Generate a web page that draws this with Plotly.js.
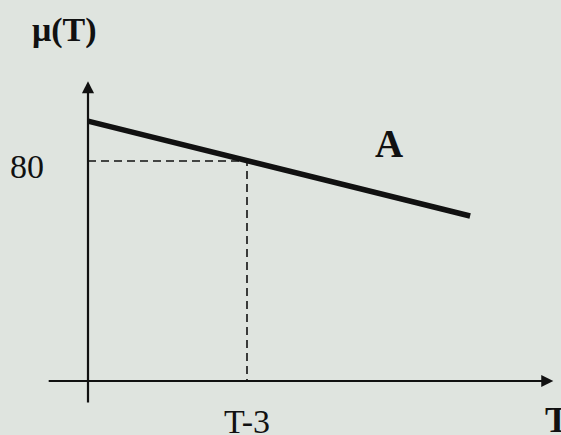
<!DOCTYPE html>
<html><head><meta charset="utf-8">
<script src="https://cdn.plot.ly/plotly-3.0.1.min.js"></script>
<style>html,body{margin:0;padding:0;background:#dfe4df;}</style>
</head><body>
<div id="chart" style="width:561px;height:435px;"></div>
<script>
// Data
var lineX = [0, 7.21];          // time axis (T-3 sits at x = 3)
var lineY = [94.5, 60.0];       // μ(T) along curve A
var refX = 3;                   // position of T-3
var refY = 80;                  // μ value at T-3
var xTickLabels = ["T-3", "T"];
var yTickLabels = ["80"];
var yAxisTitle = "μ(T)";
var seriesName = "A";

var serif = "Liberation Serif, Times New Roman, serif";
var ink = "#111111";

var traces = [
  {x: lineX, y: lineY, mode: "lines", line: {color: ink, width: 5.5}, hoverinfo: "skip"},
  {x: [0, refX, refX], y: [refY, refY, 0], mode: "lines",
   line: {color: ink, width: 1.6, dash: "8px,5px"}, hoverinfo: "skip"}
];

var ann = [
  // axes with arrowheads
  {x: 0, y: 109, ax: 0, ay: -8.4, xref: "x", yref: "y", axref: "x", ayref: "y",
   showarrow: true, arrowhead: 2, arrowsize: 1.1, arrowwidth: 2.2, arrowcolor: ink, text: ""},
  {x: 8.78, y: 0, ax: -0.77, ay: 0, xref: "x", yref: "y", axref: "x", ayref: "y",
   showarrow: true, arrowhead: 2, arrowsize: 1.1, arrowwidth: 2.2, arrowcolor: ink, text: ""},
  // labels
  {x: -1.16, y: 78, text: yTickLabels[0], showarrow: false, font: {family: serif, size: 34, color: ink}},
  {x: refX, y: -14.7, text: xTickLabels[0], showarrow: false, font: {family: serif, size: 34, color: ink}},
  {x: 8.84, y: -14.0, text: "<b>" + xTickLabels[1] + "</b>", showarrow: false, font: {family: serif, size: 36, color: ink}},
  {x: -0.45, y: 127.6, text: "<b>" + yAxisTitle + "</b>", showarrow: false, font: {family: serif, size: 34, color: ink}},
  {x: 5.67, y: 86.2, text: "<b>" + seriesName + "</b>", showarrow: false, font: {family: serif, size: 39, color: ink}}
];

var layout = {
  width: 561, height: 435,
  margin: {l: 0, r: 0, t: 0, b: 0},
  paper_bgcolor: "#dfe4df", plot_bgcolor: "#dfe4df",
  showlegend: false,
  xaxis: {range: [-1.6604, 8.9245], visible: false, fixedrange: true},
  yaxis: {range: [-19.636, 138.545], visible: false, fixedrange: true},
  annotations: ann
};

Plotly.newPlot("chart", traces, layout, {staticPlot: true, displayModeBar: false});
</script>
</body></html>
